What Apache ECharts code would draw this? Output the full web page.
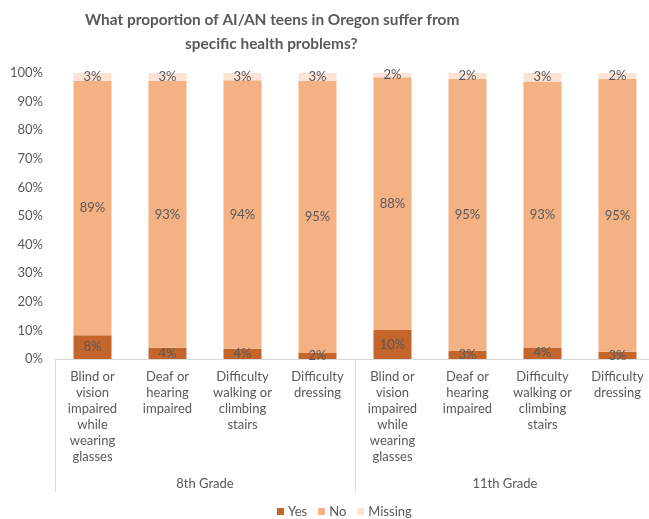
<!DOCTYPE html>
<html>
<head>
<meta charset="utf-8">
<script src="https://cdn.jsdelivr.net/npm/echarts@6/dist/echarts.min.js"></script>
<style>
  html, body { margin: 0; padding: 0; background: #fff; }
  #chart { width: 649px; height: 519px; }
</style>
</head>
<body>
<div id="chart"></div>
<script>
const categories = [
  'Blind or\nvision\nimpaired\nwhile\nwearing\nglasses',
  'Deaf or\nhearing\nimpaired',
  'Difficulty\nwalking or\nclimbing\nstairs',
  'Difficulty\ndressing',
  'Blind or\nvision\nimpaired\nwhile\nwearing\nglasses',
  'Deaf or\nhearing\nimpaired',
  'Difficulty\nwalking or\nclimbing\nstairs',
  'Difficulty\ndressing'
]
const groups = ['8th Grade', '11th Grade']
const yesData = [8.3, 3.9, 3.6, 2.1, 10.1, 2.9, 4.0, 2.5]
const noData = [88.9, 93.3, 93.9, 95.1, 88.4, 95.0, 93.0, 95.4]
const missingData = [2.8, 2.8, 2.5, 2.8, 1.5, 2.1, 3.0, 2.1]

const font = 'Lato, "Liberation Sans", Arial, sans-serif'
const textColor = '#595959'
const lineColor = '#d9d9d9'

const chart = echarts.init(document.getElementById('chart'))

function seriesOf(name, data, color) {
  return {
    name: name,
    type: 'bar',
    stack: 'total',
    xAxisIndex: 0,
    barWidth: 38,
    data: data,
    itemStyle: { color: color },
    label: {
      show: true,
      position: 'inside',
      color: textColor,
      fontSize: 13,
      fontFamily: font,
      formatter: p => Math.round(p.value) + '%'
    }
  }
}

const titleStyle = {
  color: textColor,
  fontSize: 15.4,
  fontWeight: 'bold',
  fontFamily: font
}

chart.setOption({
  backgroundColor: '#fff',
  animation: false,
  // two title lines, both centred around x=271 like the original
  title: [{
    text: 'What proportion of AI/AN teens in Oregon suffer from',
    left: 85,
    top: 13,
    padding: 0,
    textStyle: titleStyle
  }, {
    text: 'specific health problems?',
    left: 185,
    top: 37,
    padding: 0,
    textStyle: titleStyle
  }],
  legend: {
    top: 500,
    left: 272,
    itemWidth: 7,
    itemHeight: 7,
    itemGap: 11,
    icon: 'rect',
    textStyle: { color: textColor, fontSize: 13, fontFamily: font, padding: [0, 0, 0, -1] },
    data: ['Yes', 'No', 'Missing']
  },
  grid: { left: 55, top: 73, width: 600, height: 286, outerBoundsMode: 'none' },
  xAxis: [{
    type: 'category',
    data: categories,
    axisLine: { lineStyle: { color: lineColor } },
    axisTick: { show: false },
    axisLabel: {
      interval: 0,
      margin: 10,
      color: textColor,
      fontSize: 13,
      fontFamily: font,
      lineHeight: 16
    }
  }, {
    type: 'category',
    position: 'bottom',
    data: groups,
    axisLine: { show: true, lineStyle: { color: lineColor } },
    axisTick: { show: true, interval: 0, length: 133, lineStyle: { color: lineColor } },
    axisLabel: {
      interval: 0,
      margin: 118,
      color: textColor,
      fontSize: 13,
      fontFamily: font
    }
  }],
  yAxis: {
    type: 'value',
    min: 0,
    max: 100,
    interval: 10,
    axisLine: { show: false },
    axisTick: { show: false },
    splitLine: { show: false },
    axisLabel: {
      margin: 12,
      color: textColor,
      fontSize: 13,
      fontFamily: font,
      formatter: '{value}%'
    }
  },
  series: [
    seriesOf('Yes', yesData, '#c4652b'),
    seriesOf('No', noData, '#f4b183'),
    seriesOf('Missing', missingData, '#fbe3d5')
  ]
})
</script>
</body>
</html>
